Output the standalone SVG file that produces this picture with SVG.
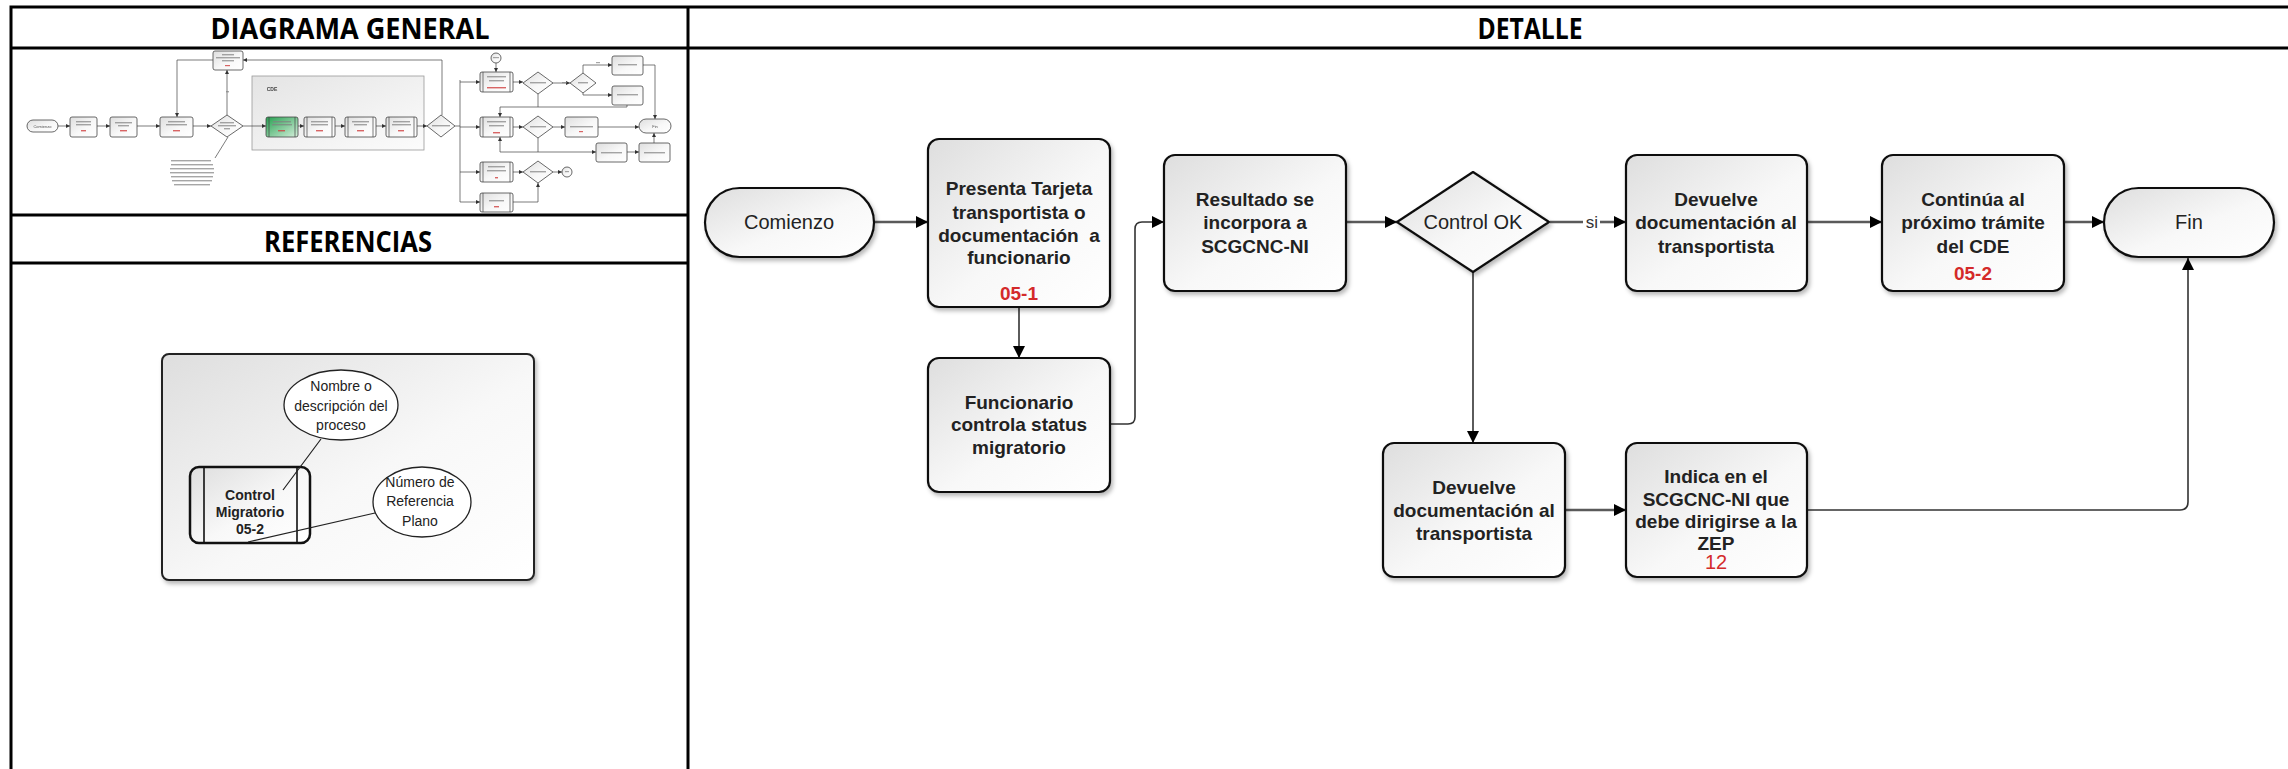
<svg xmlns="http://www.w3.org/2000/svg" width="2288" height="769" viewBox="0 0 2288 769">
  <defs>
    <linearGradient id="gFill" x1="0" y1="0" x2="1" y2="1">
      <stop offset="0" stop-color="#dedede"/>
      <stop offset="0.55" stop-color="#f8f8f8"/>
      <stop offset="1" stop-color="#ffffff"/>
    </linearGradient>
    <linearGradient id="gGroup" x1="0" y1="0" x2="1" y2="1">
      <stop offset="0" stop-color="#e4e4e4"/>
      <stop offset="1" stop-color="#fcfcfc"/>
    </linearGradient>
    <linearGradient id="gGreen" x1="0" y1="0" x2="1" y2="1">
      <stop offset="0" stop-color="#25a050"/>
      <stop offset="1" stop-color="#d6f0dc"/>
    </linearGradient>
    <filter id="shadow" x="-10%" y="-10%" width="130%" height="130%">
      <feDropShadow dx="2" dy="3" stdDeviation="2" flood-color="#000" flood-opacity="0.28"/>
    </filter>
    <filter id="soft" x="-2%" y="-2%" width="104%" height="104%">
      <feGaussianBlur stdDeviation="0.35"/>
    </filter>
    <marker id="arrow" markerWidth="12" markerHeight="12" refX="12" refY="6" orient="auto" markerUnits="userSpaceOnUse">
      <path d="M0,0 L12,6 L0,12 Z" fill="#000"/>
    </marker>
    <marker id="arrowS" markerWidth="4" markerHeight="4" refX="4" refY="2" orient="auto" markerUnits="userSpaceOnUse">
      <path d="M0,0 L4,2 L0,4 Z" fill="#333"/>
    </marker>
  </defs>
  <style>
    .grid { stroke: #000; stroke-width: 3; fill: none; }
    .hdr { font-family: "Open Sans", "Liberation Sans", sans-serif; font-weight: bold; font-size: 28px; text-anchor: middle; fill: #000; }
    .node { fill: url(#gFill); stroke: #111; stroke-width: 2.2; filter: url(#shadow); }
    .lbl { font-family: "Liberation Sans", Arial, sans-serif; font-size: 19px; font-weight: bold; text-anchor: middle; fill: #222; }
    .lblR { font-family: "Liberation Sans", Arial, sans-serif; font-size: 20px; text-anchor: middle; fill: #222; }
    .ref { fill: #d42a2a; }
    .flow { stroke: #5a5a5a; stroke-width: 2.6; fill: none; marker-end: url(#arrow); }
    .link { stroke: #333; stroke-width: 1.6; fill: none; marker-end: url(#arrow); }
    .leg { font-family: "Liberation Sans", Arial, sans-serif; font-size: 14px; text-anchor: middle; fill: #222; }
    .legB { font-family: "Liberation Sans", Arial, sans-serif; font-size: 14px; font-weight: bold; text-anchor: middle; fill: #222; }
    .tb { fill: url(#gFill); stroke: #444; stroke-width: 0.8; }
    .tl { stroke: #444; stroke-width: 0.7; fill: none; }
    .ta { stroke: #444; stroke-width: 0.7; fill: none; marker-end: url(#arrowS); }
    .sm { fill: #808080; opacity: 0.7; }
    .smr { fill: #d04040; opacity: 0.8; }
    .tt { font-family: "Liberation Sans", Arial, sans-serif; font-size: 4px; text-anchor: middle; fill: #555; }
  </style>

  <rect x="0" y="0" width="2288" height="769" fill="#ffffff"/>

  <!-- table frame -->
  <g id="table">
    <path class="grid" d="M11,7 H2288 M11,48 H2288 M11,215 H688 M11,263 H688 M11,5.5 V769 M688,7 V769"/>
    <text class="hdr" x="350" y="39" textLength="279" lengthAdjust="spacingAndGlyphs">DIAGRAMA GENERAL</text>
    <text class="hdr" x="1530" y="39" textLength="105" lengthAdjust="spacingAndGlyphs">DETALLE</text>
    <text class="hdr" x="348" y="252" textLength="168" lengthAdjust="spacingAndGlyphs">REFERENCIAS</text>
  </g>

  <!-- overview thumbnail of the whole process -->
  <g id="overview" filter="url(#soft)">
    <rect x="252" y="76" width="172" height="74" fill="url(#gGroup)" stroke="#999" stroke-width="0.8"/>
    <text x="272" y="91" font-family="Liberation Sans, Arial, sans-serif" font-size="5" font-weight="bold" fill="#444" text-anchor="middle">CDE</text>

    <g id="ov-connectors">
      <path class="ta" d="M58,126 H70"/>
      <path class="ta" d="M97,126 H110"/>
      <path class="ta" d="M137,126 H160"/>
      <path class="ta" d="M193,126 H211"/>
      <path class="ta" d="M227,115 V70"/>
      <path class="ta" d="M442,115 V60 H243"/>
      <path class="ta" d="M213,60 H177 V117"/>
      <path class="ta" d="M243,126 H266"/>
      <path class="ta" d="M298,126 H304"/>
      <path class="ta" d="M335,126 H345"/>
      <path class="ta" d="M376,126 H386"/>
      <path class="ta" d="M417,126 H427"/>
      <path class="tl" d="M455,126 H460 M460,80 V202"/>
      <path class="ta" d="M460,82 H480"/>
      <path class="ta" d="M460,127 H480"/>
      <path class="ta" d="M460,172 H480"/>
      <path class="ta" d="M460,202 H480"/>
      <path class="ta" d="M496,63 V72"/>
      <path class="ta" d="M513,82 H523"/>
      <path class="ta" d="M553,83 H570"/>
      <path class="ta" d="M583,73 V65 H612"/>
      <path class="ta" d="M583,93 V95 H612"/>
      <path class="ta" d="M643,65 H655 V119"/>
      <path class="ta" d="M627,105 V107 H500 V117"/>
      <path class="tl" d="M538,94 V107"/>
      <path class="ta" d="M513,127 H523"/>
      <path class="ta" d="M553,127 H565"/>
      <path class="ta" d="M598,127 H639"/>
      <path class="tl" d="M538,138 V152"/>
      <path class="ta" d="M500,152 H596"/>
      <path class="ta" d="M500,152 V137"/>
      <path class="ta" d="M627,152 H639"/>
      <path class="ta" d="M654,143 V133"/>
      <path class="ta" d="M513,172 H523"/>
      <path class="ta" d="M553,172 H562"/>
      <path class="ta" d="M513,202 H538 V183"/>
      <path class="tl" d="M228,137 L215,158"/>
    </g>

    <g id="ov-nodes">
      <rect class="tb" x="27" y="120" width="31" height="12" rx="6"/>
      <text class="tt" x="42.5" y="127.5">Comienzo</text>
      <rect class="tb" x="70" y="117" width="27" height="20" rx="2"/>
      <rect class="tb" x="110" y="117" width="27" height="20" rx="2"/>
      <rect class="tb" x="160" y="117" width="33" height="20" rx="2"/>
      <path class="tb" d="M211,126 L227,115 L243,126 L227,137 Z"/>
      <rect class="tb" x="213" y="51" width="30" height="19" rx="2"/>
      <rect x="266" y="117" width="32" height="20" rx="2" fill="url(#gGreen)" stroke="#444" stroke-width="0.8"/>
      <path class="tl" d="M269,117 V137 M295,117 V137"/>
      <rect class="tb" x="304" y="117" width="31" height="20" rx="2"/>
      <path class="tl" d="M307,117 V137 M332,117 V137"/>
      <rect class="tb" x="345" y="117" width="31" height="20" rx="2"/>
      <path class="tl" d="M348,117 V137 M373,117 V137"/>
      <rect class="tb" x="386" y="117" width="31" height="20" rx="2"/>
      <path class="tl" d="M389,117 V137 M414,117 V137"/>
      <path class="tb" d="M427,126 L441,115 L455,126 L441,137 Z"/>
      <circle class="tb" cx="496" cy="58" r="5"/>
      <rect class="tb" x="480" y="72" width="33" height="20" rx="2"/>
      <path class="tl" d="M483,72 V92 M510,72 V92"/>
      <rect class="tb" x="480" y="117" width="33" height="20" rx="2"/>
      <path class="tl" d="M483,117 V137 M510,117 V137"/>
      <rect class="tb" x="480" y="162" width="33" height="20" rx="2"/>
      <path class="tl" d="M483,162 V182 M510,162 V182"/>
      <rect class="tb" x="480" y="193" width="33" height="19" rx="2"/>
      <path class="tl" d="M483,193 V212 M510,193 V212"/>
      <path class="tb" d="M523,83 L538,72 L553,83 L538,94 Z"/>
      <path class="tb" d="M523,127 L538,116 L553,127 L538,138 Z"/>
      <path class="tb" d="M523,172 L538,161 L553,172 L538,183 Z"/>
      <path class="tb" d="M570,83 L583,73 L596,83 L583,93 Z"/>
      <rect class="tb" x="612" y="56" width="31" height="19" rx="2"/>
      <rect class="tb" x="612" y="86" width="31" height="19" rx="2"/>
      <rect class="tb" x="565" y="117" width="33" height="20" rx="2"/>
      <rect class="tb" x="639" y="119" width="32" height="14" rx="7"/>
      <text class="tt" x="655" y="127.5">Fin</text>
      <rect class="tb" x="596" y="143" width="31" height="19" rx="2"/>
      <rect class="tb" x="639" y="143" width="31" height="19" rx="2"/>
      <circle class="tb" cx="567" cy="172" r="5"/>
    </g>

    <!-- blurred caption marks inside the small shapes -->
    <g id="ov-marks">
      <rect class="sm" x="76" y="121" width="15" height="1.4"/><rect class="sm" x="76" y="124" width="15" height="1.4"/><rect class="smr" x="81" y="130" width="5" height="1.4"/>
      <rect class="sm" x="115" y="122" width="17" height="1.4"/><rect class="sm" x="118" y="125" width="11" height="1.4"/><rect class="smr" x="120" y="130" width="7" height="1.4"/>
      <rect class="sm" x="168" y="121" width="17" height="1.4"/><rect class="sm" x="166" y="124" width="21" height="1.4"/><rect class="smr" x="173" y="130" width="7" height="1.4"/>
      <rect class="sm" x="220" y="122" width="14" height="1.4"/><rect class="sm" x="218" y="125" width="18" height="1.4"/><rect class="sm" x="224" y="128" width="6" height="1.4"/>
      <rect class="sm" x="222" y="54" width="12" height="1.4"/><rect class="sm" x="216" y="57" width="24" height="1.4"/><rect class="sm" x="222" y="60" width="12" height="1.4"/><rect class="smr" x="225" y="65" width="5" height="1.2"/>
      <rect class="sm" x="226" y="91" width="3" height="1.4"/>
      <rect class="sm" x="273" y="121" width="18" height="1.4"/><rect class="sm" x="272" y="124" width="20" height="1.4"/><rect class="smr" x="278" y="130" width="7" height="1.4"/>
      <rect class="sm" x="311" y="121" width="17" height="1.4"/><rect class="sm" x="311" y="124" width="17" height="1.4"/><rect class="smr" x="316" y="130" width="7" height="1.4"/>
      <rect class="sm" x="352" y="121" width="17" height="1.4"/><rect class="sm" x="354" y="124" width="13" height="1.4"/><rect class="smr" x="357" y="130" width="7" height="1.4"/>
      <rect class="sm" x="393" y="121" width="17" height="1.4"/><rect class="sm" x="392" y="124" width="19" height="1.4"/><rect class="smr" x="398" y="130" width="6" height="1.4"/>
      <rect class="sm" x="432" y="125" width="18" height="1.4"/>
      <rect class="sm" x="487" y="76" width="19" height="1.4"/><rect class="sm" x="489" y="80" width="15" height="1.4"/><rect class="smr" x="487" y="87" width="19" height="1.4"/>
      <rect class="sm" x="487" y="121" width="19" height="1.4"/><rect class="sm" x="489" y="125" width="15" height="1.4"/><rect class="smr" x="493" y="132" width="7" height="1.4"/>
      <rect class="sm" x="488" y="166" width="17" height="1.4"/><rect class="sm" x="487" y="170" width="19" height="1.4"/><rect class="smr" x="495" y="177" width="3" height="1.4"/>
      <rect class="sm" x="489" y="200" width="15" height="1.4"/><rect class="smr" x="494" y="206" width="5" height="1.4"/>
      <rect class="sm" x="530" y="82" width="16" height="1.4"/>
      <rect class="sm" x="530" y="126" width="16" height="1.4"/>
      <rect class="sm" x="530" y="171" width="16" height="1.4"/>
      <rect class="sm" x="578" y="82" width="10" height="1.4"/>
      <rect class="sm" x="618" y="64" width="19" height="1.4"/>
      <rect class="sm" x="617" y="94" width="21" height="1.4"/>
      <rect class="sm" x="570" y="126" width="23" height="1.4"/><rect class="smr" x="579" y="131" width="4" height="1.2"/>
      <rect class="sm" x="601" y="152" width="21" height="1.4"/>
      <rect class="sm" x="644" y="152" width="21" height="1.4"/>
      <rect class="sm" x="493" y="57" width="6" height="1.2"/>
      <rect class="sm" x="565" y="171" width="4" height="1.2"/>
      <rect class="sm" x="562" y="82" width="5" height="1.2"/><rect class="sm" x="596" y="62" width="4" height="1.2"/>
      <rect class="sm" x="171" y="160" width="40" height="1.4"/><rect class="sm" x="171" y="164" width="42" height="1.4"/><rect class="sm" x="170" y="168" width="44" height="1.4"/><rect class="sm" x="170" y="172" width="44" height="1.4"/><rect class="sm" x="171" y="176" width="42" height="1.4"/><rect class="sm" x="172" y="180" width="40" height="1.4"/><rect class="sm" x="174" y="184" width="36" height="1.4"/>
    </g>
  </g>

  <!-- legend explaining the process box notation -->
  <g id="legend">
    <rect x="162" y="354" width="372" height="226" rx="7" fill="url(#gFill)" stroke="#222" stroke-width="2" filter="url(#shadow)"/>
    <g id="legend-process">
      <rect x="190" y="467" width="120" height="76" rx="9" fill="url(#gFill)" stroke="#111" stroke-width="2.5"/>
      <path d="M204,467 V543 M297,467 V543" stroke="#111" stroke-width="1.6" fill="none"/>
      <text class="legB" x="250" y="500">Control</text>
      <text class="legB" x="250" y="517">Migratorio</text>
      <text class="legB ref" x="250" y="534">05-2</text>
    </g>
    <g id="legend-name">
      <ellipse cx="341" cy="405" rx="57" ry="35" fill="#fff" stroke="#222" stroke-width="1.3"/>
      <text class="leg" x="341" y="391">Nombre o</text>
      <text class="leg" x="341" y="411">descripción del</text>
      <text class="leg" x="341" y="430">proceso</text>
    </g>
    <g id="legend-ref">
      <ellipse cx="422" cy="502" rx="49" ry="35" fill="#fff" stroke="#222" stroke-width="1.3"/>
      <text class="leg" x="420" y="487">Número de</text>
      <text class="leg" x="420" y="506">Referencia</text>
      <text class="leg" x="420" y="526">Plano</text>
    </g>
    <path d="M321,439 L283,490 M375,513 L248,542" stroke="#222" stroke-width="1.2" fill="none"/>
  </g>

  <!-- detail flow: connectors -->
  <g id="connectors">
    <path class="flow" d="M874,222 H928"/>
    <path class="link" d="M1019,307 V358"/>
    <path class="link" d="M1110,424 H1128 Q1135,424 1135,417 V229 Q1135,222 1142,222 H1164"/>
    <path class="flow" d="M1346,222 H1397"/>
    <path d="M1550,222 H1583" stroke="#5a5a5a" stroke-width="2.6" fill="none"/>
    <text x="1592" y="228" font-family="Liberation Sans, Arial, sans-serif" font-size="17" text-anchor="middle" fill="#333">si</text>
    <path class="flow" d="M1600,222 H1626"/>
    <path class="flow" d="M1807,222 H1882"/>
    <path class="flow" d="M2064,222 H2104"/>
    <path class="link" d="M1473,272 V443"/>
    <path class="flow" d="M1565,510 H1626"/>
    <path class="link" d="M1807,510 H2180 Q2188,510 2188,502 V258"/>
  </g>

  <g id="comienzo">
    <rect class="node" x="705" y="188" width="169" height="69" rx="34.5"/>
    <text class="lblR" x="789" y="229">Comienzo</text>
  </g>

  <g id="presenta">
    <rect class="node" x="928" y="139" width="182" height="168" rx="11"/>
    <text class="lbl" x="1019" y="195">Presenta Tarjeta</text>
    <text class="lbl" x="1019" y="219">transportista o</text>
    <text class="lbl" x="1019" y="242" xml:space="preserve">documentación  a</text>
    <text class="lbl" x="1019" y="264">funcionario</text>
    <text class="lbl ref" x="1019" y="300">05-1</text>
  </g>

  <g id="funcionario">
    <rect class="node" x="928" y="358" width="182" height="134" rx="11"/>
    <text class="lbl" x="1019" y="409">Funcionario</text>
    <text class="lbl" x="1019" y="431">controla status</text>
    <text class="lbl" x="1019" y="454">migratorio</text>
  </g>

  <g id="resultado">
    <rect class="node" x="1164" y="155" width="182" height="136" rx="11"/>
    <text class="lbl" x="1255" y="206">Resultado se</text>
    <text class="lbl" x="1255" y="229">incorpora a</text>
    <text class="lbl" x="1255" y="253">SCGCNC-NI</text>
  </g>

  <g id="control-ok">
    <path class="node" d="M1397,222 L1473,172 L1549,222 L1473,272 Z" stroke-linejoin="round"/>
    <text class="lblR" x="1473" y="229">Control OK</text>
  </g>

  <g id="devuelve-si">
    <rect class="node" x="1626" y="155" width="181" height="136" rx="11"/>
    <text class="lbl" x="1716" y="206">Devuelve</text>
    <text class="lbl" x="1716" y="229">documentación al</text>
    <text class="lbl" x="1716" y="253">transportista</text>
  </g>

  <g id="continua">
    <rect class="node" x="1882" y="155" width="182" height="136" rx="11"/>
    <text class="lbl" x="1973" y="206">Continúa al</text>
    <text class="lbl" x="1973" y="229">próximo trámite</text>
    <text class="lbl" x="1973" y="253">del CDE</text>
    <text class="lbl ref" x="1973" y="280">05-2</text>
  </g>

  <g id="fin">
    <rect class="node" x="2104" y="188" width="170" height="69" rx="34.5"/>
    <text class="lblR" x="2189" y="229">Fin</text>
  </g>

  <g id="devuelve-no">
    <rect class="node" x="1383" y="443" width="182" height="134" rx="11"/>
    <text class="lbl" x="1474" y="494">Devuelve</text>
    <text class="lbl" x="1474" y="517">documentación al</text>
    <text class="lbl" x="1474" y="540">transportista</text>
  </g>

  <g id="indica-zep">
    <rect class="node" x="1626" y="443" width="181" height="134" rx="11"/>
    <text class="lbl" x="1716" y="483">Indica en el</text>
    <text class="lbl" x="1716" y="506">SCGCNC-NI que</text>
    <text class="lbl" x="1716" y="528">debe dirigirse a la</text>
    <text class="lbl" x="1716" y="550">ZEP</text>
    <text class="lblR ref" x="1716" y="569" font-size="19">12</text>
  </g>
</svg>
